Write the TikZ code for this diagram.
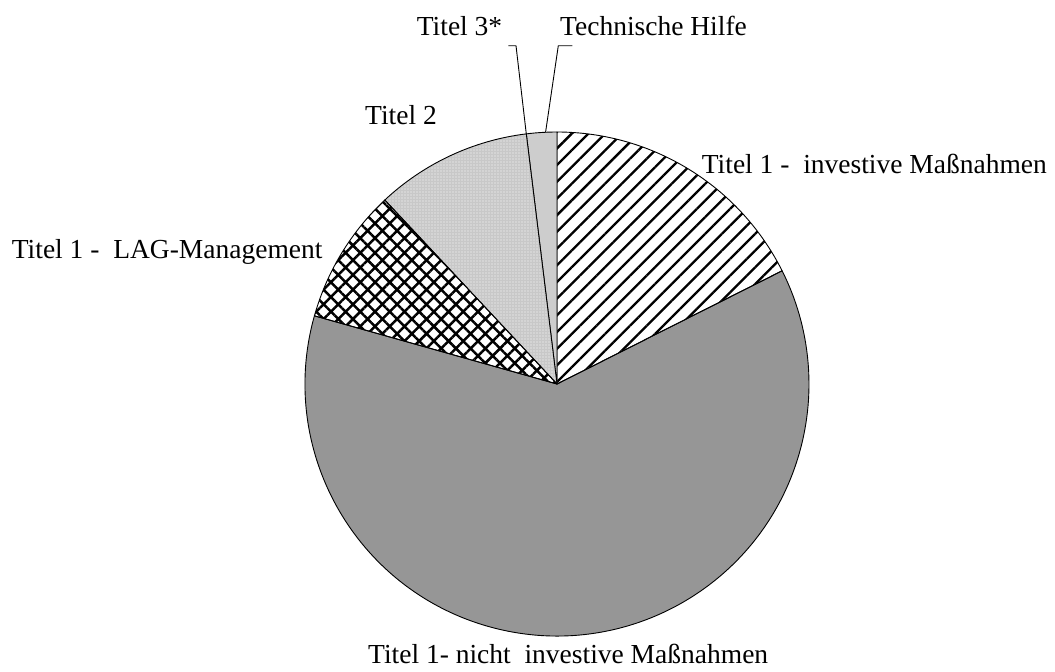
\documentclass[tikz,border=0pt]{standalone}
\usepackage{fontspec}
\setmainfont{Liberation Serif}
\usetikzlibrary{patterns.meta}
\definecolor{biggray}{RGB}{150,150,150}
\definecolor{tagray}{RGB}{205,205,205}
\definecolor{dotgray}{RGB}{200,200,200}
\begin{document}
\begin{tikzpicture}[x=1pt,y=1pt,
  slice/.style={draw=black,line width=0.9pt,line join=round},
  lbl/.style={inner sep=0pt,font=\fontsize{27.5}{33}\selectfont},
  leader/.style={draw=black,line width=0.9pt}]
\useasboundingbox (0,0) rectangle (1055,-672);
\coordinate (C) at (557,-384);
\def\R{252pt}
% Titel 1 - nicht investive Massnahmen
\path[slice,fill=biggray] (C) -- ++(164.3:\R) arc[start angle=164.3,end angle=386.7,radius=\R] -- cycle;
% Titel 1 - investive Massnahmen
\path[slice,pattern={Lines[angle=45,distance=11.8pt,line width=2.3pt]}] (C) -- ++(26.7:\R) arc[start angle=26.7,end angle=90,radius=\R] -- cycle;
% Technische Hilfe
\path[slice,fill=tagray] (C) -- ++(90:\R) arc[start angle=90,end angle=97,radius=\R] -- cycle;
% Titel 2
\path[preaction={fill=dotgray},pattern={Dots[distance=3pt,radius=0.55pt]},pattern color=white] (C) -- ++(97:\R) arc[start angle=97,end angle=133.1,radius=\R] -- cycle;
\path[slice] (C) -- ++(97:\R) arc[start angle=97,end angle=133.1,radius=\R] -- cycle;
% Titel 1 - LAG-Management
\path[slice,pattern={Hatch[angle=45,distance=10.4pt,line width=2.5pt]}] (C) -- ++(133.1:\R) arc[start angle=133.1,end angle=164.3,radius=\R] -- cycle;

% labels
\node[lbl,anchor=base west] (t3) at (416.7,-35) {Titel 3*};
\node[lbl,anchor=base west] (th) at (560,-35) {Technische Hilfe};
\node[lbl,anchor=base west] (t2) at (365,-124.3) {Titel 2};
\node[lbl,anchor=base west] (ti) at (701.7,-173) {Titel 1 -\ \ investive Maßnahmen};
\node[lbl,anchor=base west] (tl) at (11.7,-258) {Titel 1 -\ \ LAG-Management};
\node[lbl,anchor=base west] (tn) at (368,-663) {Titel 1- nicht\ \ investive Maßnahmen};

% leader lines
\coordinate (t3a) at (508.3,-45.7);
\coordinate (t3b) at (516,-45.7);
\path (C) ++(97:\R) coordinate (t3c);
\coordinate (tha) at (572.3,-45.7);
\coordinate (thb) at (558.3,-45.7);
\path (C) ++(92.6:\R) coordinate (thc);
\draw[leader] (t3a) -- (t3b) -- (t3c);
\draw[leader] (tha) -- (thb) -- (thc);
\end{tikzpicture}
\end{document}
